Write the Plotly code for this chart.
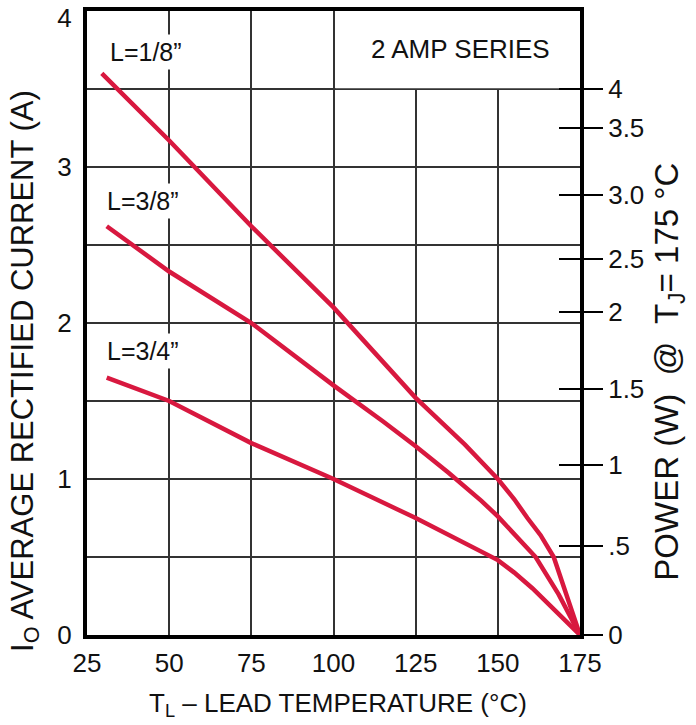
import plotly.graph_objects as go

# ---- data ----
temp_18 = [29.5, 50, 75, 100, 125, 140, 150, 155, 159, 163, 167, 175]
amps_18 = [3.60, 3.17, 2.62, 2.10, 1.52, 1.22, 1.00, 0.87, 0.75, 0.64, 0.50, 0.0]

temp_38 = [31, 50, 75, 100, 115, 125, 135, 145, 150, 155, 161.5, 168.5, 175]
amps_38 = [2.62, 2.33, 2.00, 1.60, 1.37, 1.21, 1.04, 0.86, 0.76, 0.65, 0.50, 0.26, 0.0]

temp_34 = [31, 50, 75, 100, 120, 125, 150, 155, 160.5, 175]
amps_34 = [1.65, 1.50, 1.23, 1.00, 0.80, 0.75, 0.48, 0.40, 0.30, 0.0]

series_names = ['L=1/8”', 'L=3/8”', 'L=3/4”']
label_pos_x = [43, 42, 42]
label_pos_y = [3.74, 2.78, 1.82]

x_ticks = [25, 50, 75, 100, 125, 150, 175]
y_tick_text = ["0", "1", "2", "3", "4"]
y_tick_pos = [0, 1, 2, 3, 3.955]       # the top "4" sits just under the frame
y_grid = [0.5, 1, 1.5, 2, 2.5, 3, 3.5]

# right-hand power scale: positions (in amps on left scale) and labels
power_pos = [0.0, 0.57, 1.09, 1.58, 2.07, 2.41, 2.82, 3.25, 3.50]
power_txt = ["0", ".5", "1", "1.5", "2", "2.5", "3.0", "3.5", "4"]

RED = "#d8183f"
FONT = "Liberation Sans, Arial, Helvetica, sans-serif"
GRID = "#333333"
TXT = "#111"

fig = go.Figure()
for t, a, n in [(temp_18, amps_18, series_names[0]),
                (temp_38, amps_38, series_names[1]),
                (temp_34, amps_34, series_names[2])]:
    fig.add_trace(go.Scatter(x=t, y=a, mode="lines", name=n,
                             line=dict(color=RED, width=4.5), showlegend=False))

# invisible traces to activate the overlaying power axes
fig.add_trace(go.Scatter(x=[25], y=[0], yaxis="y2", mode="markers",
                         marker=dict(opacity=0), showlegend=False, hoverinfo="skip"))
fig.add_trace(go.Scatter(x=[25], y=[0], yaxis="y3", mode="markers",
                         marker=dict(opacity=0), showlegend=False, hoverinfo="skip"))

axis_font = dict(family=FONT, size=26, color=TXT)

fig.update_layout(
    width=696, height=725,
    margin=dict(l=87, r=116, t=11, b=90),
    paper_bgcolor="white", plot_bgcolor="white",
    font=dict(family=FONT, color=TXT),
    xaxis=dict(range=[25, 175], tickvals=x_ticks, ticktext=[str(v) for v in x_ticks],
               showgrid=True, gridcolor=GRID, gridwidth=1.5, automargin=False,
               showline=True, linecolor="black", linewidth=4, mirror=True,
               ticks="", tickfont=axis_font, zeroline=False, ticklabelstandoff=2,
               ticklabeloverflow="allow"),
    yaxis=dict(range=[0, 4], tickvals=y_tick_pos, ticktext=y_tick_text,
               showgrid=False, automargin=False,
               minor=dict(tickvals=y_grid, showgrid=True, gridcolor=GRID,
                          gridwidth=1.5, ticks=""),
               showline=True, linecolor="black", linewidth=4, mirror=True,
               ticks="", tickfont=axis_font, zeroline=False, ticklabelstandoff=6,
               ticklabeloverflow="allow"),
    yaxis2=dict(range=[0, 4], overlaying="y", side="right", tickvals=power_pos,
                ticktext=power_txt, ticks="outside", ticklen=22, tickwidth=2,
                tickcolor="black", showgrid=False, zeroline=False, showline=False,
                tickfont=axis_font, ticklabelstandoff=0, automargin=False,
                ticklabeloverflow="allow"),
    yaxis3=dict(range=[0, 4], overlaying="y", side="right", tickvals=power_pos,
                ticks="inside", ticklen=21, tickwidth=2, tickcolor="black",
                showticklabels=False, showgrid=False, zeroline=False, showline=False,
                automargin=False),
)

# blank box behind the "2 AMP SERIES" label (hides grid there)
fig.add_shape(type="rect", xref="x", yref="y", x0=100.6, x1=175, y0=3.505, y1=4,
              fillcolor="white", line=dict(width=0), layer="between")

for n, lx, ly in zip(series_names, label_pos_x, label_pos_y):
    fig.add_annotation(x=lx, y=ly, xref="x", yref="y", text=n,
                       xanchor="center", yanchor="middle",
                       showarrow=False, bgcolor="white", borderpad=3,
                       font=dict(family=FONT, size=25, color=TXT))

fig.add_annotation(x=138.5, y=3.756, xref="x", yref="y", text="2 AMP SERIES",
                   xanchor="center", yanchor="middle", showarrow=False,
                   font=dict(family=FONT, size=26, color=TXT))

# axis titles
fig.add_annotation(x=0.509, y=-0.112, xref="paper", yref="paper",
                   xanchor="center", yanchor="middle",
                   text="T<sub>L</sub> – LEAD TEMPERATURE (°C)", showarrow=False,
                   font=dict(family=FONT, size=26, color=TXT))
fig.add_annotation(x=-0.126, y=0.423, xref="paper", yref="paper", textangle=-90,
                   xanchor="center", yanchor="middle",
                   text="I<sub>O</sub> AVERAGE RECTIFIED CURRENT (A)", showarrow=False,
                   font=dict(family=FONT, size=31, color=TXT))
fig.add_annotation(x=1.1805, y=0.422, xref="paper", yref="paper", textangle=-90,
                   xanchor="center", yanchor="middle",
                   text="POWER (W)  @  T<sub>J</sub>= 175 °C", showarrow=False,
                   font=dict(family=FONT, size=33, color=TXT))

fig.write_html("out.html", config={"displayModeBar": False},
               post_script="document.body.style.margin='0';")
